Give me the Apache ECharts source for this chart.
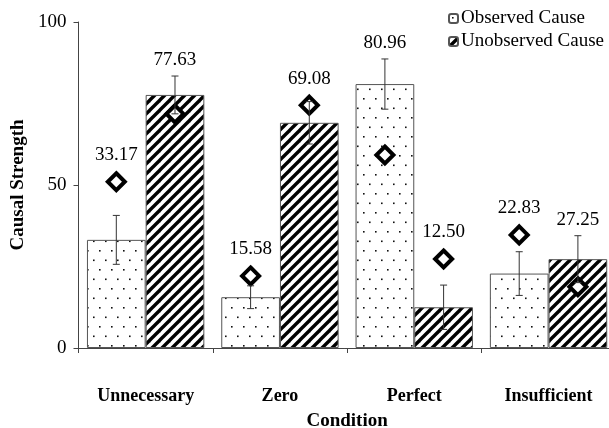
<!DOCTYPE html>
<html>
<head>
<meta charset="utf-8">
<script src="https://cdn.jsdelivr.net/npm/echarts@6/dist/echarts.min.js"></script>
<style>
  html, body { margin: 0; padding: 0; background: #fff; }
  #chart { width: 609px; height: 428px; }
</style>
</head>
<body>
<div id="chart"></div>
<script>
// Conditions and mean causal-strength ratings
const categories = ['Unnecessary', 'Zero', 'Perfect', 'Insufficient'];
const observedMean = [33.17, 15.58, 80.96, 22.83];
const unobservedMean = [77.63, 69.08, 12.50, 27.25];
// Standard errors (half-length of each error bar)
const observedErr = [7.5, 3.5, 7.7, 6.7];
const unobservedErr = [5.8, 6.5, 6.8, 7.2];
// Model predictions, drawn as diamonds
const observedModel = [51.0, 22.1, 59.2, 34.7];
const unobservedModel = [71.8, 74.5, 27.3, 18.8];
const yTicks = [0, 50, 100];

const FONT = "'Liberation Serif', 'DejaVu Serif', serif";
const CAT_GAP = 0.126;

// Sparse staggered dot fill
function dotPattern() {
  const c = document.createElement('canvas');
  c.width = 12; c.height = 19;
  const g = c.getContext('2d');
  g.fillStyle = '#fff';
  g.fillRect(0, 0, 12, 19);
  g.fillStyle = '#111';
  g.fillRect(3, 3, 1.6, 1.6);
  g.fillRect(9, 12.5, 1.6, 1.6);
  return c;
}

// Bold forward-slash hatch
function hatchPattern() {
  const s = 10;
  const c = document.createElement('canvas');
  c.width = s; c.height = s;
  const g = c.getContext('2d');
  g.fillStyle = '#fff';
  g.fillRect(0, 0, s, s);
  g.strokeStyle = '#000';
  g.lineWidth = 3.4;
  g.lineCap = 'square';
  for (const k of [-s, 0, s]) {
    g.beginPath();
    g.moveTo(k, s);
    g.lineTo(k + s, 0);
    g.stroke();
  }
  return c;
}

// Error bars, diamond markers and value labels for one bar series
function overlaySeries(means, errs, model, side) {
  const data = means.map((m, i) => [i, m, errs[i], model[i]]);
  return {
    type: 'custom',
    z: 5,
    silent: true,
    data: data,
    renderItem: function (params, api) {
      const i = api.value(0);
      const mean = api.value(1);
      const err = api.value(2);
      const mod = api.value(3);
      const catW = api.size([1, 0])[0];
      const barW = catW * (1 - CAT_GAP) / 2;
      const x = api.coord([i, 0])[0] + side * barW / 2;
      const yTop = api.coord([i, mean + err])[1];
      const yBot = api.coord([i, mean - err])[1];
      const yMod = api.coord([i, mod])[1];
      const r = 8.5;
      const cap = 3.5;
      const lineStyle = { stroke: '#333', lineWidth: 1 };
      const labelY = Math.min(yTop, yMod - r - 2) - 16;
      return {
        type: 'group',
        children: [
          {
            type: 'polygon',
            shape: { points: [[x, yMod - r], [x + r, yMod], [x, yMod + r], [x - r, yMod]] },
            style: { fill: '#fff', stroke: '#000', lineWidth: 4, lineJoin: 'miter' }
          },
          { type: 'line', shape: { x1: x, y1: yTop, x2: x, y2: yBot }, style: lineStyle },
          { type: 'line', shape: { x1: x - cap, y1: yTop, x2: x + cap, y2: yTop }, style: lineStyle },
          { type: 'line', shape: { x1: x - cap, y1: yBot, x2: x + cap, y2: yBot }, style: lineStyle },
          {
            type: 'text',
            style: {
              x: x, y: labelY,
              text: mean.toFixed(2),
              font: '19px ' + FONT,
              fill: '#000',
              align: 'center',
              verticalAlign: 'middle'
            }
          }
        ]
      };
    }
  };
}

const chart = echarts.init(document.getElementById('chart'), null, { renderer: 'canvas' });

const axisColor = '#444';

chart.setOption({
  animation: false,
  backgroundColor: '#fff',
  textStyle: { fontFamily: FONT },
  grid: { left: 78.5, right: -6.7, top: 22, bottom: 80, containLabel: false, outerBoundsMode: 'none' },
  legend: {
    orient: 'vertical',
    left: 443,
    top: 4,
    itemWidth: 9,
    itemHeight: 9,
    itemGap: 4,
    data: ['Observed Cause', 'Unobserved Cause'],
    textStyle: { fontFamily: FONT, fontSize: 19, color: '#000', padding: [0, 0, 0, -2] }
  },
  xAxis: {
    type: 'category',
    data: categories,
    name: 'Condition',
    nameLocation: 'middle',
    nameGap: 64,
    nameTextStyle: { fontFamily: FONT, fontSize: 19, fontWeight: 'bold', color: '#000' },
    axisLine: { lineStyle: { color: axisColor, width: 1 } },
    axisTick: { show: true, length: 5, lineStyle: { color: axisColor } },
    axisLabel: { margin: 39, fontFamily: FONT, fontSize: 18, fontWeight: 'bold', color: '#000' },
    splitLine: { show: false }
  },
  yAxis: {
    type: 'value',
    min: yTicks[0],
    max: yTicks[yTicks.length - 1],
    interval: yTicks[1] - yTicks[0],
    name: 'Causal Strength',
    nameLocation: 'middle',
    nameGap: 46,
    nameTextStyle: { fontFamily: FONT, fontSize: 19, fontWeight: 'bold', color: '#000' },
    axisLine: { show: true, lineStyle: { color: axisColor, width: 1 } },
    axisTick: { show: true, length: 5, lineStyle: { color: axisColor } },
    axisLabel: { margin: 12, fontFamily: FONT, fontSize: 19, color: '#000' },
    splitLine: { show: false }
  },
  series: [
    {
      name: 'Observed Cause',
      type: 'bar',
      data: observedMean,
      barGap: '0%',
      barCategoryGap: (CAT_GAP * 100) + '%',
      itemStyle: {
        color: { image: dotPattern(), repeat: 'repeat' },
        borderColor: '#555',
        borderWidth: 1
      }
    },
    {
      name: 'Unobserved Cause',
      type: 'bar',
      data: unobservedMean,
      barGap: '0%',
      barCategoryGap: (CAT_GAP * 100) + '%',
      itemStyle: {
        color: { image: hatchPattern(), repeat: 'repeat' },
        borderColor: '#555',
        borderWidth: 1
      }
    },
    overlaySeries(observedMean, observedErr, observedModel, -1),
    overlaySeries(unobservedMean, unobservedErr, unobservedModel, 1)
  ]
});
</script>
</body>
</html>
